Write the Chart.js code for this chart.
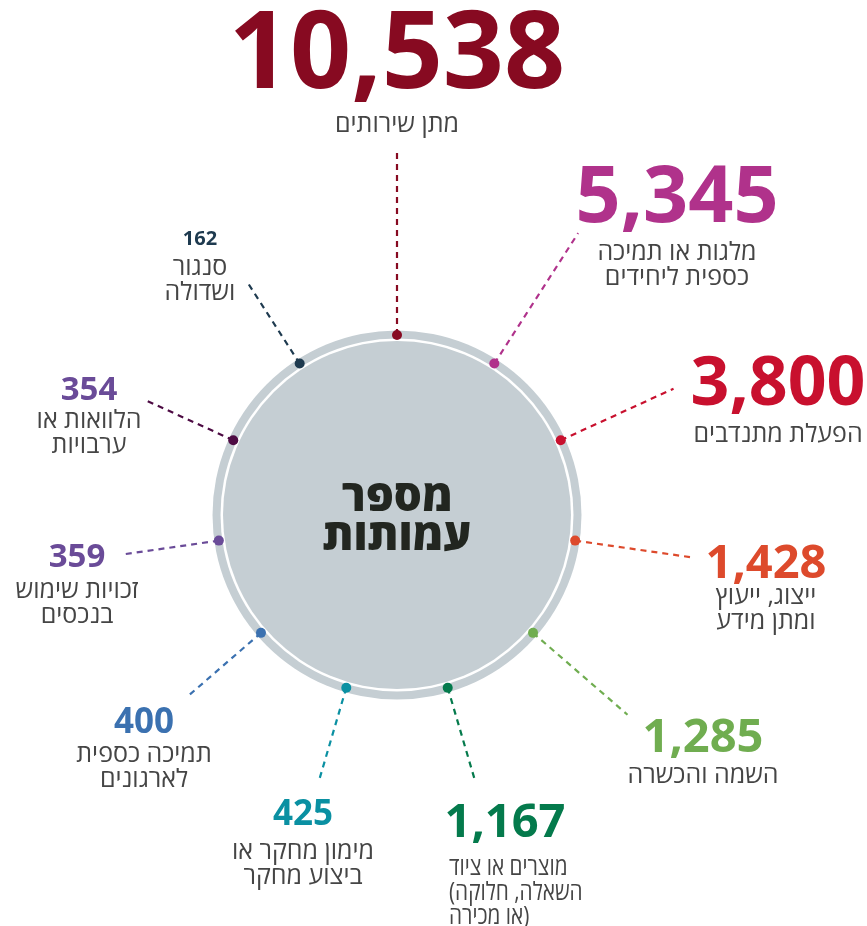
<!DOCTYPE html>
<html lang="he">
<head>
<meta charset="utf-8">
<script src="https://cdn.jsdelivr.net/npm/chart.js@4.4.1/dist/chart.umd.min.js"></script>
<style>
  html, body { margin: 0; padding: 0; background: #ffffff; }
  #wrap { width: 867px; height: 926px; position: relative; }
</style>
</head>
<body>
<div id="wrap"><canvas id="c"></canvas></div>
<script>
// ---------- DATA ----------
const categories = [
  'מתן שירותים',
  'מלגות או תמיכה כספית ליחידים',
  'הפעלת מתנדבים',
  'ייצוג, ייעוץ ומתן מידע',
  'השמה והכשרה',
  'מוצרים או ציוד (השאלה, חלוקה או מכירה)',
  'מימון מחקר או ביצוע מחקר',
  'תמיכה כספית לארגונים',
  'זכויות שימוש בנכסים',
  'הלוואות או ערבויות',
  'סנגור ושדולה'
];
const values = [10538, 5345, 3800, 1428, 1285, 1167, 425, 400, 359, 354, 162];
const labelLines = [
  ['מתן שירותים'],
  ['מלגות או תמיכה', 'כספית ליחידים'],
  ['הפעלת מתנדבים'],
  ['ייצוג, ייעוץ', 'ומתן מידע'],
  ['השמה והכשרה'],
  ['מוצרים או ציוד', '(השאלה, חלוקה', 'או מכירה)'],
  ['מימון מחקר או', 'ביצוע מחקר'],
  ['תמיכה כספית', 'לארגונים'],
  ['זכויות שימוש', 'בנכסים'],
  ['הלוואות או', 'ערבויות'],
  ['סנגור', 'ושדולה']
];
const centerTitle = ['מספר', 'עמותות'];

// ---------- STYLE / LAYOUT ----------
const numberColors = ['#870a21', '#b0328b', '#c8102e', '#dd4a2c', '#70ad50', '#047a4c', '#0a90a2', '#3b71b0', '#6a4b98', '#6a4b98', '#1e3a4f'];
const markColors   = ['#870a21', '#b0328b', '#c8102e', '#dd4a2c', '#70ad50', '#047a4c', '#0a90a2', '#3b71b0', '#6a4b98', '#4d0b43', '#1e3a4f'];
const lineReach = [365, 335, 304, 299, 305, 276, 278, 277, 277, 277, 277]; // outer radius of each dashed leader
const labelX = [0, 280, 381, 369, 306, 108, -94, -253, -320, -308, -197];   // label centre (x, relative to circle centre)
const numberBaseY = [427, 293, 110, -63, -237, -322, -310, -218, -52, 115, 270]; // number baseline (relative, up positive)
const numberSize = [107, 79, 68, 47, 47, 47, 35, 35, 33, 33, 20];
const labelGap = [44, 38, 37, 26, 31, 38, 34, 29, 31, 28, 30];
const labelAlign = ['center', 'center', 'center', 'center', 'center', 'left', 'center', 'center', 'center', 'center', 'center'];
const labelAlignX = [0, 0, 0, 0, 0, 52, 0, 0, 0, 0, 0];
const labelSqueeze = [1, 1, 1, 1, 1, 0.83, 1, 1, 1, 1, 1];
const labelFontSize = 25;
const lineHeight = 24.5;
const dotRadiusPos = 180;
const FONT = "'Open Sans', 'Liberation Sans', 'DejaVu Sans', sans-serif";

const n = values.length;
const angleOf = i => (i * 2 * Math.PI) / n;

const dotData = values.map((v, i) => ({ x: dotRadiusPos * Math.sin(angleOf(i)), y: dotRadiusPos * Math.cos(angleOf(i)) }));

const leaderSets = values.map((v, i) => ({
  type: 'line',
  data: [
    { x: dotRadiusPos * Math.sin(angleOf(i)), y: dotRadiusPos * Math.cos(angleOf(i)) },
    { x: lineReach[i] * Math.sin(angleOf(i)), y: lineReach[i] * Math.cos(angleOf(i)) }
  ],
  borderColor: markColors[i],
  borderWidth: 2.2,
  borderDash: [6, 5],
  pointRadius: 0,
  showLine: true,
  fill: false,
  order: 1,
  clip: false
}));

const ringSets = [
  { data: [{ x: 0, y: 0 }], pointRadius: 184.5, backgroundColor: '#c5ced3', borderWidth: 0, order: 6, clip: false },
  { data: [{ x: 0, y: 0 }], pointRadius: 176.5, backgroundColor: '#ffffff', borderWidth: 0, order: 5, clip: false },
  { data: [{ x: 0, y: 0 }], pointRadius: 174, backgroundColor: '#c5ced3', borderWidth: 0, order: 4, clip: false }
];

const textPlugin = {
  id: 'textPlugin',
  afterDatasetsDraw(chart) {
    const ctx = chart.ctx;
    const xs = chart.scales.x, ys = chart.scales.y;
    ctx.save();
    ctx.textBaseline = 'alphabetic';
    // centre title
    ctx.fillStyle = '#222620';
    ctx.textAlign = 'center';
    ctx.font = `800 44px ${FONT}`;
    ctx.fillText(centerTitle[0], xs.getPixelForValue(0), ys.getPixelForValue(4));
    ctx.fillText(centerTitle[1], xs.getPixelForValue(0), ys.getPixelForValue(-35));
    // labels
    values.forEach((v, i) => {
      const cx = xs.getPixelForValue(labelX[i]);
      const by = ys.getPixelForValue(numberBaseY[i]);
      ctx.textAlign = 'center';
      ctx.fillStyle = numberColors[i];
      ctx.font = `700 ${numberSize[i]}px ${FONT}`;
      ctx.fillText(v.toLocaleString('en-US'), cx, by);
      ctx.fillStyle = '#454545';
      ctx.font = `400 ${labelFontSize}px ${FONT}`;
      ctx.textAlign = labelAlign[i];
      const lx = labelAlign[i] === 'left' ? xs.getPixelForValue(labelAlignX[i]) : cx;
      labelLines[i].forEach((t, k) => {
        ctx.save();
        ctx.translate(lx, by + labelGap[i] + k * lineHeight);
        ctx.scale(labelSqueeze[i], 1);
        ctx.fillText(t, 0, 0);
        ctx.restore();
      });
    });
    ctx.restore();
  }
};

new Chart(document.getElementById('c'), {
  type: 'scatter',
  data: {
    datasets: [
      { data: dotData, pointRadius: 5, pointBackgroundColor: markColors, pointBorderWidth: 0, order: 0, clip: false },
      ...leaderSets,
      ...ringSets
    ]
  },
  options: {
    responsive: true,
    maintainAspectRatio: false,
    animation: false,
    events: [],
    layout: { padding: 0, autoPadding: false },
    plugins: { legend: { display: false }, tooltip: { enabled: false } },
    scales: {
      x: { type: 'linear', min: -397, max: 470, display: false },
      y: { type: 'linear', min: -411, max: 515, display: false }
    }
  },
  plugins: [textPlugin]
});
</script>
</body>
</html>
